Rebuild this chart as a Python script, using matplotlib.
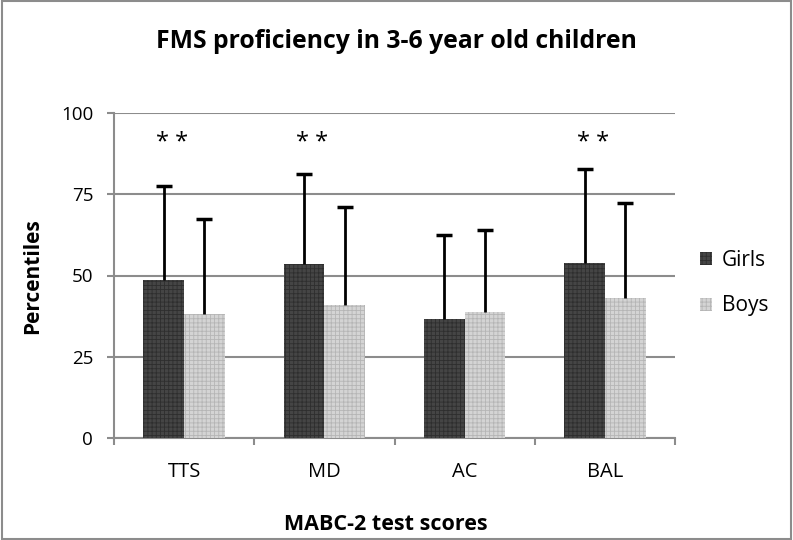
import matplotlib.pyplot as plt
import matplotlib.patches as mpatches
import numpy as np

plt.rcParams['font.family'] = ['Open Sans', 'DejaVu Sans']
plt.rcParams['hatch.linewidth'] = 0.6

categories = ['TTS', 'MD', 'AC', 'BAL']
girls = [48.5, 53.4, 36.5, 53.8]
boys = [38.1, 41.0, 38.8, 43.0]
girls_sd = [28.9, 27.8, 26.0, 29.0]
boys_sd = [29.4, 30.2, 25.2, 29.2]
stars = ['**', '**', '', '**']
yticks = [0, 25, 50, 75, 100]

fig = plt.figure(figsize=(7.93, 5.40), dpi=100)
ax = fig.add_axes([114/793, 1-438/540, 561/793, 325/540])

x = np.arange(len(categories))
w = 0.29
ax.bar(x - w/2, girls, w, facecolor='#454545', edgecolor='#2e2e2e', hatch='++++',
       linewidth=0, label='Girls', zorder=3)
ax.bar(x + w/2, boys, w, facecolor='#d4d4d4', edgecolor='#b5b5b5', hatch='++++',
       linewidth=0, label='Boys', zorder=3)

# upper error bars only
for xs, vals, sds in [(x - w/2, girls, girls_sd), (x + w/2, boys, boys_sd)]:
    tops = np.array(vals) + np.array(sds)
    ax.vlines(xs, vals, tops, color='black', linewidth=2, zorder=4)
    ax.plot(xs, tops, linestyle='none', marker='_', markersize=12, markeredgewidth=2.5,
            color='black', zorder=4)

for xi, s in zip(x, stars):
    if s:
        ax.text(xi - 0.085, 88.8, ' '.join(s), ha='center', va='baseline', fontsize=17)

ax.set_xlim(-0.5, 3.5)
ax.set_ylim(0, 100)
ax.set_yticks(yticks)
ax.set_yticklabels([str(t) for t in yticks], fontsize=13.5)
ax.yaxis.grid(True, color='#8c8c8c', linewidth=1.5, zorder=0)
ax.set_xticks(x)
ax.set_xticklabels(categories, fontsize=14.5)
ax.set_xticks(np.arange(-0.5, 4, 1), minor=True)
ax.tick_params(axis='x', which='major', length=0, pad=17)
ax.tick_params(axis='x', which='minor', length=5, color='#8c8c8c', width=1.5)
ax.tick_params(axis='y', length=5, color='#8c8c8c', width=1.5, pad=10)
for side in ['top', 'right']:
    ax.spines[side].set_visible(False)
for side in ['left', 'bottom']:
    ax.spines[side].set_color('#8c8c8c')
    ax.spines[side].set_linewidth(1.5)

fig.text(0.5, 1-42/540, 'FMS proficiency in 3-6 year old children', ha='center',
         va='center', fontsize=17.8, fontweight='bold')
fig.text(33/793, 1-276/540, 'Percentiles', rotation=90, ha='center', va='center',
         fontsize=15, fontweight='bold')
fig.text(386/793, 1-524/540, 'MABC-2 test scores', ha='center', va='center',
         fontsize=15.5, fontweight='bold')

leg = fig.legend(handles=[mpatches.Patch(facecolor='#454545', edgecolor='#2e2e2e', hatch='++++', linewidth=0, label='Girls'),
                          mpatches.Patch(facecolor='#d4d4d4', edgecolor='#b5b5b5', hatch='++++', linewidth=0, label='Boys')],
                 loc='center left', bbox_to_anchor=(681/793, 1-283/540), frameon=False,
                 fontsize=15, handlelength=0.6, handleheight=0.6, handletextpad=0.45,
                 labelspacing=1.2)

fig.patches.append(mpatches.Rectangle((0.002, 0.002), 0.996, 0.996, transform=fig.transFigure,
                                      fill=False, edgecolor='#8c8c8c', linewidth=1.5))

fig.savefig('out.png', dpi=100)
